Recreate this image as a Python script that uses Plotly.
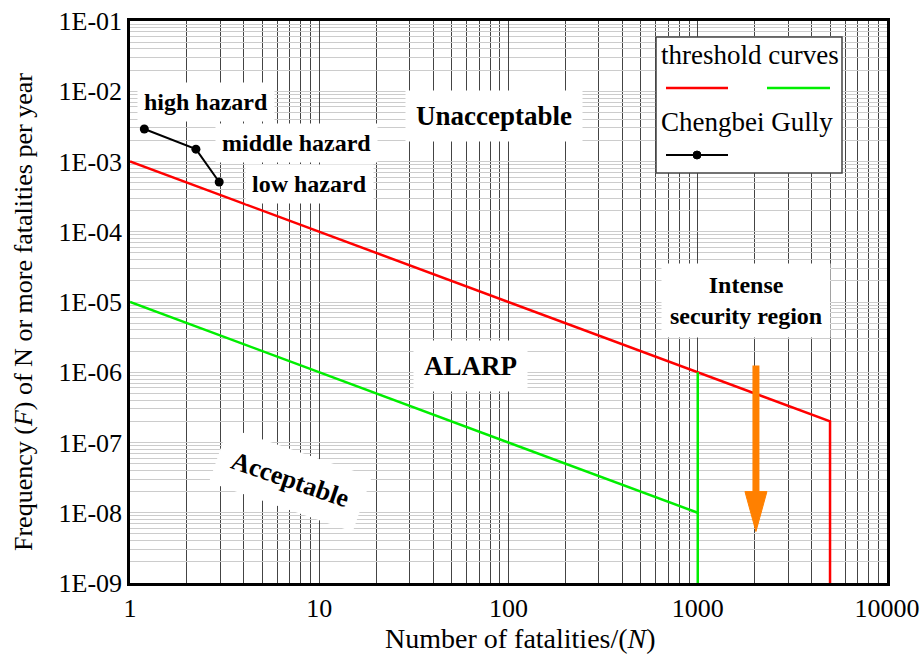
import plotly.graph_objects as go
import math

# ---- data ----
red_N = [1, 5000, 5000]
red_F = [1e-3, 2e-7, 1e-9]
green_N = [1, 1000, None, 1000, 1000]
green_F = [1e-5, 1e-8, None, 1e-6, 1e-9]
gully_N = [1.19, 2.23, 2.96]
gully_F = [2.9e-3, 1.5e-3, 5.1e-4]
arrow_N = 2030
arrow_F_start = 1.25e-6
arrow_F_end = 5.4e-9

x_tickvals = [1, 10, 100, 1000, 10000]
x_ticktext = ["1", "10", "100", "1000", "10000"]
y_tickvals = [1e-1, 1e-2, 1e-3, 1e-4, 1e-5, 1e-6, 1e-7, 1e-8, 1e-9]
y_ticktext = ["1E-01", "1E-02", "1E-03", "1E-04", "1E-05", "1E-06", "1E-07", "1E-08", "1E-09"]

FONT = "Liberation Serif, Times New Roman, serif"
L, R, T, B = 130, 35, 21, 71
W, H = 922, 654
PW, PH = W - L - R, H - T - B
XDEC = PW / 4.0   # px per decade in x
YDEC = PH / 8.0   # px per decade in y

def px(x):
    return (x - L) / PW

def py(y):
    return (H - B - y) / PH

fig = go.Figure()
fig.add_trace(go.Scatter(x=red_N, y=red_F, mode="lines",
                         line=dict(color="#ff0000", width=2.5), showlegend=False))
fig.add_trace(go.Scatter(x=green_N, y=green_F, mode="lines",
                         line=dict(color="#00ee00", width=2.5), showlegend=False))
fig.add_trace(go.Scatter(x=gully_N, y=gully_F, mode="lines+markers",
                         line=dict(color="black", width=2),
                         marker=dict(color="black", size=9), showlegend=False))

# orange arrow: shaft + triangular head (head sized in pixels -> decades)
head_len = 40 / YDEC
head_half = 11 / XDEC
base_F = arrow_F_end * 10 ** head_len
fig.add_trace(go.Scatter(x=[arrow_N, arrow_N], y=[arrow_F_start, base_F * 0.9], mode="lines",
                         line=dict(color="#ff8000", width=7), showlegend=False))
fig.add_trace(go.Scatter(x=[arrow_N * 10 ** -head_half, arrow_N * 10 ** head_half, arrow_N,
                            arrow_N * 10 ** -head_half],
                         y=[base_F, base_F, arrow_F_end, base_F], mode="lines", fill="toself",
                         fillcolor="#ff8000", line=dict(color="#ff8000", width=1),
                         showlegend=False))

annos = []
def box(text, x, y, size=24, angle=0, pad=6):
    annos.append(dict(text=text, x=px(x), y=py(y), xref="paper", yref="paper",
                      xanchor="center", yanchor="middle",
                      showarrow=False, textangle=angle, bgcolor="white",
                      borderpad=pad, font=dict(family=FONT, size=size, color="black")))

box("<b>high hazard</b>", 206, 102, pad=6)
box("<b>middle hazard</b>", 296, 143, pad=6)
box("<b>low hazard</b>", 309, 184, pad=6)
box("<b>Unacceptable</b>", 494, 116, size=27, pad=10)
box("<b>ALARP</b>", 470, 366, size=27, pad=10)
box("<b>Acceptable</b>", 290, 479, size=26, angle=19, pad=14)
box("<b>Intense<br>security region</b>", 746, 300, size=24, pad=8)

# axis titles (placed as annotations for exact position)
annos.append(dict(text="Number of fatalities/(<i>N</i>)", x=px(520), y=py(638),
                  xref="paper", yref="paper", xanchor="center", yanchor="middle",
                  showarrow=False, font=dict(family=FONT, size=28, color="black")))
annos.append(dict(text="Frequency (<i>F</i>) of N or more fatalities per year",
                  x=px(23), y=py(312), xref="paper", yref="paper", xanchor="center",
                  yanchor="middle", textangle=-90, showarrow=False,
                  font=dict(family=FONT, size=26, color="black")))

# legend box
shapes = [dict(type="rect", xref="paper", yref="paper", x0=px(656), x1=px(842),
               y0=py(173), y1=py(37), fillcolor="white", line=dict(color="#444", width=1.5),
               layer="above")]
shapes.append(dict(type="line", xref="paper", yref="paper", x0=px(666), x1=px(728),
                   y0=py(88), y1=py(88), line=dict(color="#ff0000", width=2.5), layer="above"))
shapes.append(dict(type="line", xref="paper", yref="paper", x0=px(767), x1=px(830),
                   y0=py(88), y1=py(88), line=dict(color="#00ee00", width=2.5), layer="above"))
shapes.append(dict(type="line", xref="paper", yref="paper", x0=px(666), x1=px(728),
                   y0=py(155), y1=py(155), line=dict(color="black", width=2), layer="above"))
shapes.append(dict(type="circle", xref="paper", yref="paper", x0=px(693), x1=px(701),
                   y0=py(159), y1=py(151), fillcolor="black", line=dict(color="black", width=1),
                   layer="above"))
for txt, yy in [("threshold curves", 55), ("Chengbei Gully", 122)]:
    annos.append(dict(text=txt, x=px(659), y=py(yy), xref="paper", yref="paper",
                      xanchor="left", yanchor="middle", showarrow=False,
                      font=dict(family=FONT, size=27, color="black")))

fig.update_layout(
    width=W, height=H, margin=dict(l=L, r=R, t=T, b=B, autoexpand=False),
    paper_bgcolor="white", plot_bgcolor="white",
    font=dict(family=FONT, size=26, color="black"),
    annotations=annos, shapes=shapes,
)
fig.update_xaxes(type="log", range=[0, 4], tickvals=x_tickvals, ticktext=x_ticktext,
                 automargin=False,
                 showline=True, linecolor="black", linewidth=2.5, mirror=True,
                 showgrid=True, gridcolor="#444", gridwidth=1.2,
                 minor=dict(dtick="D1", showgrid=True, gridcolor="#444", gridwidth=1.2),
                 zeroline=False, ticks="",
                 tickfont=dict(family=FONT, size=26))
fig.update_yaxes(type="log", range=[-9, -1], tickvals=y_tickvals, ticktext=y_ticktext,
                 automargin=False, ticksuffix="\u00a0",
                 showline=True, linecolor="black", linewidth=2.5, mirror=True,
                 showgrid=True, gridcolor="#cccccc", gridwidth=1,
                 minor=dict(dtick="D1", showgrid=True, gridcolor="#cccccc", gridwidth=1),
                 zeroline=False, ticks="",
                 tickfont=dict(family=FONT, size=26))

fig.write_html("out.html")
